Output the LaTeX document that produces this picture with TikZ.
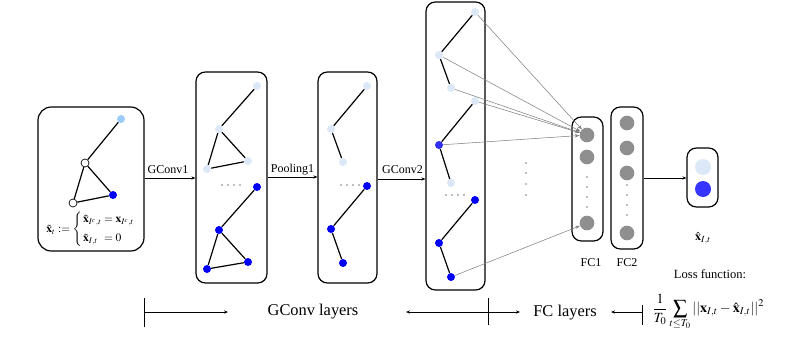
\documentclass[tikz,border=0pt]{standalone}
\usepackage{mathptmx}
\usepackage{fontspec}
\setmainfont{Liberation Serif}
\usetikzlibrary{arrows.meta}
\definecolor{lightc}{HTML}{DCE8F8}
\definecolor{skyc}{HTML}{9CCBFA}
\definecolor{bluec}{HTML}{0000F5}
\definecolor{blue2c}{HTML}{3030EE}
\definecolor{outblue}{HTML}{3535FF}
\definecolor{grayc}{HTML}{8F8F8F}
\definecolor{dotc}{HTML}{A8A8A8}
\begin{document}
\begin{tikzpicture}[x=0.75pt,y=-0.75pt,
  gnode/.style={circle,inner sep=0pt,minimum size=6pt},
  lnode/.style={gnode,fill=lightc},
  bnode/.style={gnode,fill=bluec},
  wnode/.style={gnode,fill=white,draw=black,line width=0.5pt},
  fcnode/.style={circle,inner sep=0pt,minimum size=11pt,fill=grayc},
  gedge/.style={line width=0.9pt,black},
  layerbox/.style={draw,line width=0.9pt,rounded corners=7pt,inner sep=0pt},
  conn/.style={line width=0.45pt,-{Stealth[length=3pt,width=2.4pt]}},
  fconn/.style={line width=0.4pt,gray,-{Stealth[length=3.5pt,width=2.6pt]}},
  dotn/.style={circle,inner sep=0pt,minimum size=1.8pt,fill=dotc},
  lbl/.style={font=\fontsize{9}{10}\selectfont,inner sep=0pt},
  biglbl/.style={font=\fontsize{12.3}{14}\selectfont,inner sep=0pt},
  bar/.style={line width=0.6pt},
  bconn/.style={line width=0.6pt,-{Stealth[length=3pt,width=2.4pt]}}
]
\useasboundingbox (0,0) rectangle (785,336);

% boxes
\node[layerbox,rounded corners=10pt,minimum width=79.5pt,minimum height=108pt] (B1) at (91,179) {};
\node[layerbox,minimum width=53.25pt,minimum height=158.25pt] (B2) at (231.5,177.5) {};
\node[layerbox,minimum width=44.25pt,minimum height=158.25pt] (B3) at (347.5,177.5) {};
\node[layerbox,minimum width=44.25pt,minimum height=216pt] (B4) at (455.5,146) {};
\node[layerbox,minimum width=23.25pt,minimum height=93pt] (FC1) at (587.5,179) {};
\node[layerbox,minimum width=24pt,minimum height=106.5pt] (FC2) at (627,178) {};
\node[layerbox,minimum width=23.25pt,minimum height=44.25pt] (OUT) at (702.5,177.5) {};

% box 1 graph
\node[gnode,fill=skyc] (a1) at (121,119) {};
\node[wnode] (a2) at (85,163) {};
\node[gnode,fill=bluec] (a3) at (113,195) {};
\node[wnode] (a4) at (73,203) {};
\draw[gedge] (a1) -- (a2) (a2) -- (a3) (a2) -- (a4) (a4) -- (a3);
\node[font=\fontsize{8.6}{10}\selectfont,inner sep=0pt] (f1) at (91,229.5)
 {$\tilde{\mathbf{x}}_t := \left\{\begin{array}{@{\,}l@{}l@{}}
   \tilde{\mathbf{x}}_{I^c,t} & {}= \mathbf{x}_{I^c,t}\\[4pt]
   \tilde{\mathbf{x}}_{I,t} & {}= 0\end{array}\right.$};

% box 2 graphs
\node[lnode] (b1) at (257,86) {};
\node[lnode] (b2) at (219,129) {};
\node[lnode] (b3) at (248,161) {};
\node[lnode] (b4) at (207,169) {};
\draw[gedge] (b1) -- (b2) (b2) -- (b3) (b2) -- (b4) (b4) -- (b3);
\node[bnode] (c1) at (257,187) {};
\node[bnode] (c2) at (219,230) {};
\node[bnode] (c3) at (248,262) {};
\node[bnode] (c4) at (207,269) {};
\draw[gedge] (c1) -- (c2) (c2) -- (c3) (c2) -- (c4) (c4) -- (c3);
\foreach \i/\x in {1/222,2/228,3/234,4/240} \node[dotn] (bd\i) at (\x,185) {};

% box 3 graphs
\node[lnode] (d1) at (367,86) {};
\node[lnode] (d2) at (331,129) {};
\node[lnode] (d3) at (343,162) {};
\draw[gedge] (d1) -- (d2) (d2) -- (d3);
\node[bnode] (e1) at (367,186) {};
\node[bnode] (e2) at (331,229) {};
\node[bnode] (e3) at (343,263) {};
\draw[gedge] (e1) -- (e2) (e2) -- (e3);
\foreach \i/\x in {1/341,2/347,3/353,4/359} \node[dotn] (cd\i) at (\x,185) {};

% box 4 graphs
\node[lnode] (g1) at (475,12) {};
\node[lnode] (g2) at (439,55) {};
\node[lnode] (g3) at (451,88) {};
\draw[gedge] (g1) -- (g2) (g2) -- (g3);
\node[lnode] (h1) at (475,101) {};
\node[gnode,fill=blue2c] (h2) at (439,145) {};
\node[lnode] (h3) at (451,183) {};
\draw[gedge] (h1) -- (h2) (h2) -- (h3);
\node[bnode] (i1) at (475,200) {};
\node[bnode] (i2) at (439,243) {};
\node[bnode] (i3) at (451,277) {};
\draw[gedge] (i1) -- (i2) (i2) -- (i3);
\foreach \i/\x in {1/446,2/452,3/458,4/464} \node[dotn] (dd\i) at (\x,195) {};

% middle vertical dots
\foreach \i/\y in {1/163,2/173,3/184,4/195} \node[dotn] (vd\i) at (526,\y) {};

% FC1
\node[fcnode] (k1) at (587,135) {};
\node[fcnode] (k2) at (587,157) {};
\node[fcnode] (k3) at (587,223) {};
\foreach \i/\y in {1/177,2/187,3/197,4/207} \node[dotn] (kd\i) at (587,\y) {};
% FC2
\node[fcnode] (m1) at (627,123) {};
\node[fcnode] (m2) at (627,148) {};
\node[fcnode] (m3) at (627,173) {};
\node[fcnode] (m4) at (627,233) {};
\foreach \i/\y in {1/185,2/195,3/205,4/215} \node[dotn] (md\i) at (627,\y) {};
% output
\node[circle,inner sep=0pt,minimum size=12pt,fill=lightc] (o1) at (703,167) {};
\node[circle,inner sep=0pt,minimum size=12pt,fill=outblue] (o2) at (703,189) {};

% connections to FC1
\foreach \n in {g1,g2,g3,h1,h2} \draw[fconn] (\n) -- (k1);
\draw[fconn] (i3) -- (k3);

% layer arrows
\draw[conn] (B1.east |- 0,178) -- (B2.west |- 0,178);
\draw[conn] (B2.east |- 0,177) -- (B3.west |- 0,177);
\draw[conn] (B3.east |- 0,179) -- (B4.west |- 0,179);
\draw[conn] (FC2.east |- 0,178) -- (OUT.west |- 0,178);
\node[lbl] (t1) at (168,170) {GConv1};
\node[lbl] (t2) at (292.5,170) {Pooling1};
\node[lbl] (t3) at (402.5,170) {GConv2};
\node[lbl] (t4) at (591,263) {FC1};
\node[lbl] (t5) at (627,263) {FC2};
\node[lbl] (t6) at (703,238) {$\hat{\mathbf{x}}_{I,t}$};
\node[lbl,font=\fontsize{9.4}{11}\selectfont] (t7) at (710,274) {Loss function:};

% bottom
\coordinate (p1a) at (144,298); \coordinate (p1b) at (144,327);
\coordinate (p1) at (144,312); \coordinate (q1) at (228,312);
\coordinate (p2a) at (488,298); \coordinate (p2b) at (488,325);
\coordinate (p2) at (488,312); \coordinate (q2) at (406,312); \coordinate (q3) at (520,312);
\coordinate (p3a) at (642,305); \coordinate (p3b) at (642,325);
\coordinate (p3) at (642,312); \coordinate (q4) at (611,312);
\draw[bar] (p1a) -- (p1b) (p2a) -- (p2b) (p3a) -- (p3b);
\draw[bconn] (p1) -- (q1);
\draw[bconn] (p2) -- (q2);
\draw[bconn] (p2) -- (q3);
\draw[bconn] (p3) -- (q4);
\node[biglbl] (t8) at (313,312) {GConv layers};
\node[biglbl] (t9) at (565,313) {FC layers};
\node[font=\fontsize{10.5}{12}\selectfont,inner sep=0pt,anchor=west] (t10) at (652,312)
 {$\displaystyle \frac{1}{T_0}\sum_{t\le T_0}||\mathbf{x}_{I,t}-\hat{\mathbf{x}}_{I,t}||^2$};
\end{tikzpicture}
\end{document}
